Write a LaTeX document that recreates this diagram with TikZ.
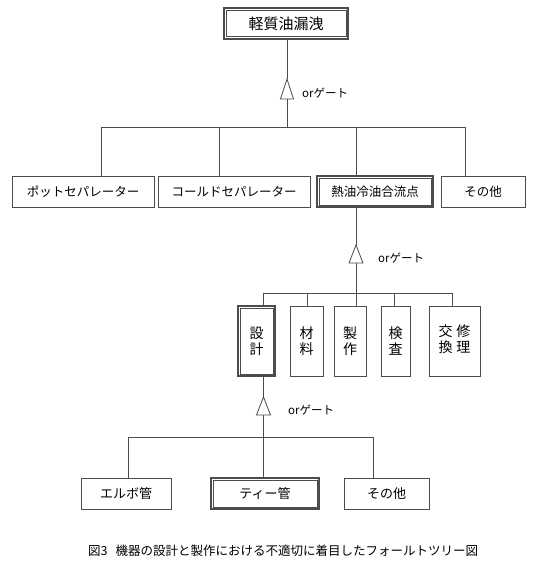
\documentclass[tikz,border=0pt]{standalone}
\usepackage{fontspec}
\setmainfont{Noto Sans CJK JP}
\newcommand\myfs[2]{\fontsize{#1pt}{#2pt}\selectfont}
\definecolor{lc}{gray}{0.3}
\begin{document}
\begin{tikzpicture}[x=1pt,y=-1pt,
 box/.style={draw=lc, line width=0.8pt, fill=white, inner sep=0pt, align=center, font=\myfs{12.5}{15}},
 dbox/.style={box, line width=1.3pt},
 inner/.style={draw=lc, line width=0.7pt},
 vbox/.style={box, font=\myfs{14}{16}},
 ln/.style={draw=lc, line width=0.8pt},
 gatetri/.style={draw=lc, line width=0.8pt, fill=white},
 glabel/.style={anchor=west, inner sep=0pt, font=\myfs{11.5}{12}}]
\useasboundingbox (0,0) rectangle (539,567);

% top
\node[dbox, minimum width=124pt, minimum height=31pt, font=\myfs{15}{16}] (top) at (286,23.5) {軽質油漏洩};
\draw[inner] ([shift={(2.8pt,2.8pt)}]top.south west) rectangle ([shift={(-2.8pt,-2.8pt)}]top.north east);

% row 2
\node[box, minimum width=142pt, minimum height=31pt] (pot) at (83,191.5) {ポットセパレーター};
\node[box, minimum width=152pt, minimum height=31pt] (cold) at (234,191.5) {コールドセパレーター};
\node[dbox, minimum width=116pt, minimum height=31pt] (junc) at (375,191.5) {熱油冷油合流点};
\draw[inner] ([shift={(2.8pt,2.8pt)}]junc.south west) rectangle ([shift={(-2.8pt,-2.8pt)}]junc.north east);
\node[box, minimum width=84pt, minimum height=31pt] (oth1) at (483,191.5) {その他};

% row 3
\node[vbox, line width=1.3pt, minimum width=37pt, minimum height=70pt] (des) at (256.5,341) {設\\計};
\draw[inner] ([shift={(2.8pt,2.8pt)}]des.south west) rectangle ([shift={(-2.8pt,-2.8pt)}]des.north east);
\node[vbox, minimum width=33pt, minimum height=70pt] (mat) at (306.5,341) {材\\料};
\node[vbox, minimum width=32pt, minimum height=70pt] (fab) at (350,341) {製\\作};
\node[vbox, minimum width=29pt, minimum height=70pt] (insp) at (395.5,341) {検\\査};
\node[vbox, minimum width=51pt, minimum height=70pt] (rep) at (454.5,341)
  {\begin{tabular}{@{}c@{\hspace{4pt}}c@{}}交&修\\換&理\end{tabular}};

% row 4
\node[box, minimum width=90pt, minimum height=31pt, font=\myfs{13}{15}] (elb) at (126,493.5) {エルボ管};
\node[dbox, minimum width=108pt, minimum height=31pt, font=\myfs{13}{15}] (tee) at (265,493.5) {ティー管};
\draw[inner] ([shift={(2.8pt,2.8pt)}]tee.south west) rectangle ([shift={(-2.8pt,-2.8pt)}]tee.north east);
\node[box, minimum width=85pt, minimum height=31pt, font=\myfs{13}{15}] (oth2) at (386.5,493.5) {その他};

% caption
\node[anchor=west, inner sep=0pt, font=\myfs{12.5}{14}] (cap) at (88,551) {図3\hspace{8pt}機器の設計と製作における不適切に着目したフォールトツリー図};

% gate 1
\coordinate (g1a) at (287,79);
\coordinate (g1b) at (287,99);
\coordinate (b1) at (287,127);
\coordinate (b1L) at (101,127);
\coordinate (b1c) at (219,127);
\coordinate (b1d) at (356,127);
\coordinate (b1R) at (465,127);
\draw[ln] (top.south -| g1a) -- (g1a);
\draw[ln] (g1b) -- (b1);
\draw[gatetri] (g1a) -- ([xshift=6.5pt]g1b) -- ([xshift=-6.5pt]g1b) -- cycle;
\node[glabel] (gl1) at (302,93) {orゲート};
\draw[ln] (b1L) -- (b1R);
\draw[ln] (b1L) -- (b1L |- pot.north);
\draw[ln] (b1c) -- (b1c |- cold.north);
\draw[ln] (b1d) -- (b1d |- junc.north);
\draw[ln] (b1R) -- (b1R |- oth1.north);

% gate 2
\coordinate (g2a) at (356,245);
\coordinate (g2b) at (356,263);
\coordinate (b2L) at (263.5,293);
\coordinate (b2b) at (307,293);
\coordinate (b2c) at (356,293);
\coordinate (b2d) at (394,293);
\coordinate (b2R) at (452,293);
\draw[ln] (junc.south -| g2a) -- (g2a);
\draw[ln] (g2b) -- (b2c);
\draw[gatetri] (g2a) -- ([xshift=7pt]g2b) -- ([xshift=-7pt]g2b) -- cycle;
\node[glabel] (gl2) at (378,258) {orゲート};
\draw[ln] (b2L) -- (b2R);
\draw[ln] (b2L) -- (b2L |- des.north);
\draw[ln] (b2b) -- (b2b |- mat.north);
\draw[ln] (b2c) -- (b2c |- fab.north);
\draw[ln] (b2d) -- (b2d |- insp.north);
\draw[ln] (b2R) -- (b2R |- rep.north);

% gate 3
\coordinate (g3a) at (263.5,397);
\coordinate (g3b) at (263.5,415);
\coordinate (b3L) at (128,437);
\coordinate (b3c) at (263.5,437);
\coordinate (b3R) at (373,437);
\draw[ln] (des.south -| g3a) -- (g3a);
\draw[ln] (g3b) -- (b3c);
\draw[gatetri] (g3a) -- ([xshift=7pt]g3b) -- ([xshift=-7pt]g3b) -- cycle;
\node[glabel] (gl3) at (288,410) {orゲート};
\draw[ln] (b3L) -- (b3R);
\draw[ln] (b3L) -- (b3L |- elb.north);
\draw[ln] (b3c) -- (b3c |- tee.north);
\draw[ln] (b3R) -- (b3R |- oth2.north);
\end{tikzpicture}
\end{document}
